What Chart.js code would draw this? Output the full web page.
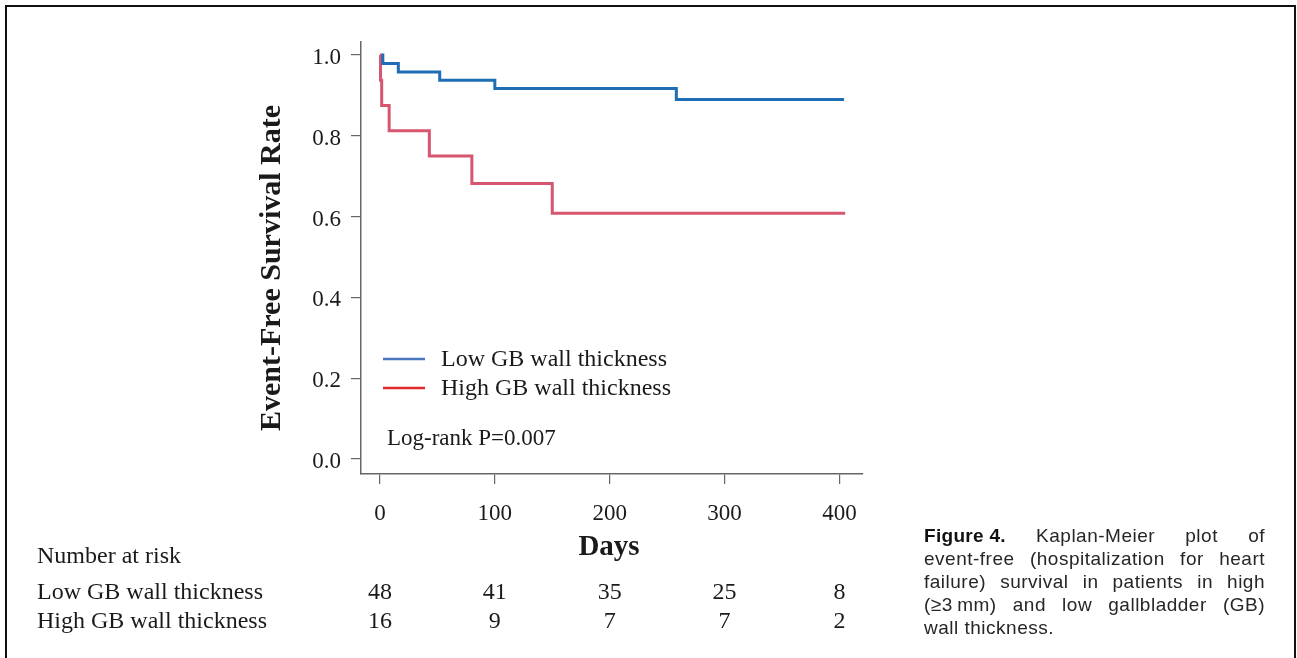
<!DOCTYPE html>
<html>
<head>
<meta charset="utf-8">
<script src="https://cdn.jsdelivr.net/npm/chart.js@4.4.1/dist/chart.umd.min.js"></script>
<style>
  html, body { margin: 0; padding: 0; background: #fff; }
  body { width: 1297px; height: 658px; position: relative; overflow: hidden; }
  #frame { position: absolute; left: 5px; top: 5px; width: 1291px; height: 700px; border: 2px solid #111; box-sizing: border-box; }
  #wrap { position: absolute; left: 0; top: 0; width: 1297px; height: 658px; }
  #caption { position: absolute; left: 924px; top: 524px; width: 341px; font-family: "Liberation Sans", Arial, sans-serif; font-size: 19px; line-height: 23px; color: #262626; letter-spacing: 0.5px; }
  #caption div { text-align: justify; text-align-last: justify; white-space: nowrap; }
  #caption div.last { text-align-last: left; }
  #caption b { display: inline-block; font-weight: bold; font-size: 19px; letter-spacing: 0.3px; color: #111; }
</style>
</head>
<body>
<div id="frame"></div>
<div id="wrap"><canvas id="c" width="1297" height="658"></canvas></div>
<div id="caption">
  <div><b>Figure 4.</b> Kaplan-Meier plot of</div>
  <div>event-free (hospitalization for heart</div>
  <div>failure) survival in patients in high</div>
  <div>(≥3&#8201;mm) and low gallbladder (GB)</div>
  <div class="last">wall thickness.</div>
</div>
<script>
// ---- data ----
const lowDays  = [1.5, 2.5, 16, 52, 100, 258, 404];
const lowSurv  = [1.0, 0.979, 0.958, 0.9375, 0.917, 0.89, 0.89];
const highDays = [0, 0.5, 1.5, 8, 43, 80, 150, 405];
const highSurv = [1.0, 0.9375, 0.875, 0.8125, 0.75, 0.682, 0.608, 0.608];
const xTicks = [0, 100, 200, 300, 400];
const yTicks = [0.0, 0.2, 0.4, 0.6, 0.8, 1.0];
const seriesNames = ["Low GB wall thickness", "High GB wall thickness"];
const riskTimes = [0, 100, 200, 300, 400];
const riskLow  = [48, 41, 35, 25, 8];
const riskHigh = [16, 9, 7, 7, 2];
const pText = "Log-rank P=0.007";

const lineBlue = "#1f6db4";
const lineRed = "#d6556f";
const legBlue = "#4a76c0";
const legRed = "#e0292b";
const serif = '"Liberation Serif", "Times New Roman", serif';
const txt = "#1a1a1a";

const toPts = (xs, ys) => xs.map((x, i) => ({ x: x, y: ys[i] }));

const overlay = {
  id: 'overlay',
  afterDraw(chart) {
    const ctx = chart.ctx;
    const xs = chart.scales.x;
    ctx.save();
    ctx.fillStyle = txt;
    // y-axis title
    ctx.save();
    ctx.translate(272, 268);
    ctx.rotate(-Math.PI / 2);
    ctx.font = 'bold 30px ' + serif;
    ctx.textAlign = 'center';
    ctx.textBaseline = 'middle';
    ctx.fillText("Event-Free Survival Rate", 0, 0);
    ctx.restore();
    // x-axis title
    ctx.font = 'bold 29px ' + serif;
    ctx.textAlign = 'center';
    ctx.textBaseline = 'middle';
    ctx.fillText("Days", 609, 548);
    // legend
    const legCols = [legBlue, legRed];
    const legY = [359, 388];
    ctx.lineWidth = 2.5;
    legCols.forEach((c, i) => {
      ctx.strokeStyle = c;
      ctx.beginPath();
      ctx.moveTo(383, legY[i]);
      ctx.lineTo(425, legY[i]);
      ctx.stroke();
    });
    ctx.font = '24px ' + serif;
    ctx.textAlign = 'left';
    ctx.fillStyle = txt;
    seriesNames.forEach((n, i) => ctx.fillText(n, 441, legY[i] + 1));
    ctx.font = '23px ' + serif;
    ctx.fillText(pText, 387, 439);
    // number at risk table
    ctx.font = '24px ' + serif;
    ctx.fillText("Number at risk", 37, 557);
    ctx.fillText(seriesNames[0], 37, 593);
    ctx.fillText(seriesNames[1], 37, 622);
    ctx.textAlign = 'center';
    riskTimes.forEach((t, i) => {
      const px = xs.getPixelForValue(t);
      ctx.fillText(String(riskLow[i]), px, 593);
      ctx.fillText(String(riskHigh[i]), px, 622);
    });
    ctx.restore();
  }
};

new Chart(document.getElementById('c'), {
  type: 'line',
  data: {
    datasets: [
      { label: seriesNames[0], data: toPts(lowDays, lowSurv), borderColor: lineBlue, borderWidth: 3, stepped: 'before', pointRadius: 0, fill: false },
      { label: seriesNames[1], data: toPts(highDays, highSurv), borderColor: lineRed, borderWidth: 3, stepped: 'before', pointRadius: 0, fill: false }
    ]
  },
  options: {
    responsive: false,
    animation: false,
    events: [],
    layout: { padding: { left: 0, top: 42, right: 434, bottom: 0 } },
    plugins: { legend: { display: false }, tooltip: { enabled: false }, title: { display: false } },
    scales: {
      x: {
        type: 'linear',
        min: -16.5, max: 420.5,
        afterBuildTicks(s) { s.ticks = xTicks.map(v => ({ value: v })); },
        afterFit(s) { s.height = 184; },
        ticks: { color: txt, font: { family: serif, size: 23 }, padding: 16, maxRotation: 0, callback: v => String(v) },
        grid: { display: true, drawOnChartArea: false, drawTicks: true, tickLength: 10, color: '#666', lineWidth: 1.2 },
        border: { display: true, color: '#666', width: 1.5 }
      },
      y: {
        type: 'linear',
        min: -0.037, max: 1.032,
        afterBuildTicks(s) { s.ticks = yTicks.map(v => ({ value: v })); },
        afterFit(s) { s.width = 361; },
        ticks: { color: txt, font: { family: serif, size: 23 }, padding: 10, labelOffset: 3, callback: v => Number(v).toFixed(1) },
        grid: { display: true, drawOnChartArea: false, drawTicks: true, tickLength: 10, color: '#666', lineWidth: 1.2 },
        border: { display: true, color: '#666', width: 1.5 }
      }
    }
  },
  plugins: [overlay]
});
</script>
</body>
</html>
